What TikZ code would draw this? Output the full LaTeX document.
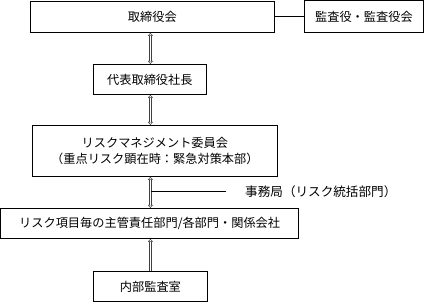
\documentclass[tikz,border=0pt]{standalone}
\usepackage{fontspec}
\setmainfont{Noto Sans CJK JP}
\usetikzlibrary{arrows.meta}
\begin{document}
\begin{tikzpicture}[x=1pt,y=1pt,
  box/.style={draw, line width=0.8pt, inner sep=0pt, anchor=north west, font=\fontsize{12.2}{16}\selectfont, align=center},
  arrowhd/.style={line width=0.5pt, black!75},
  hd/.tip={Triangle[open, length=3pt, width=5pt]},
  dbl/.style={double=white, double distance=1.6pt, line width=0.55pt, black!75},
  lnk/.style={line width=1.2pt}]
\useasboundingbox (0,0) rectangle (424,-302);
\node[box, minimum width=244pt, minimum height=31pt] (b1) at (30,-1) {取締役会};
\node[box, minimum width=119pt, minimum height=31.5pt] (aud) at (304,-0.5) {監査役・監査役会};
\node[box, minimum width=113pt, minimum height=30pt] (pres) at (93,-64) {代表取締役社長};
\node[box, minimum width=245pt, minimum height=51pt] (rmc) at (32,-125) {リスクマネジメント委員会\\（重点リスク顕在時：緊急対策本部）};
\node[box, minimum width=297.5pt, minimum height=30pt] (dept) at (0.5,-208) {リスク項目毎の主管責任部門/各部門・関係会社};
\node[box, minimum width=114pt, minimum height=30.5pt] (ia) at (93,-271) {内部監査室};
\node[font=\fontsize{12.6}{16}\selectfont, anchor=west, inner sep=0pt] (sec) at (245,-192) {事務局（リスク統括部門）};
\coordinate (s0) at (151,-192);
\coordinate (s1) at (226,-192);
\coordinate (a1) at (b1.south -| ia.north);
\coordinate (a2) at (pres.south -| ia.north);
\coordinate (a3) at (rmc.north -| ia.north);
\coordinate (a4) at (rmc.south -| ia.north);
\coordinate (a5) at (dept.north -| ia.north);
\coordinate (a6) at (dept.south -| ia.north);
\coordinate (a0) at (pres.north -| ia.north);
\draw[lnk] (b1.east) -- (aud.west |- b1.east);
\draw[arrowhd, {hd}-{hd}] (a0) -- (a1);
\draw[dbl, shorten <=2.8pt, shorten >=2.8pt] (a0) -- (a1);
\draw[arrowhd, {hd}-{hd}] (a3) -- (a2);
\draw[dbl, shorten <=2.8pt, shorten >=2.8pt] (a3) -- (a2);
\draw[arrowhd, {hd}-{hd}] (a5) -- (a4);
\draw[dbl, shorten <=2.8pt, shorten >=2.8pt] (a5) -- (a4);
\draw[arrowhd, -{hd}] (ia.north) -- (a6);
\draw[dbl, shorten >=2.8pt] (ia.north) -- (a6);
\draw[line width=1pt] (s0) -- (s1);
\end{tikzpicture}
\end{document}
